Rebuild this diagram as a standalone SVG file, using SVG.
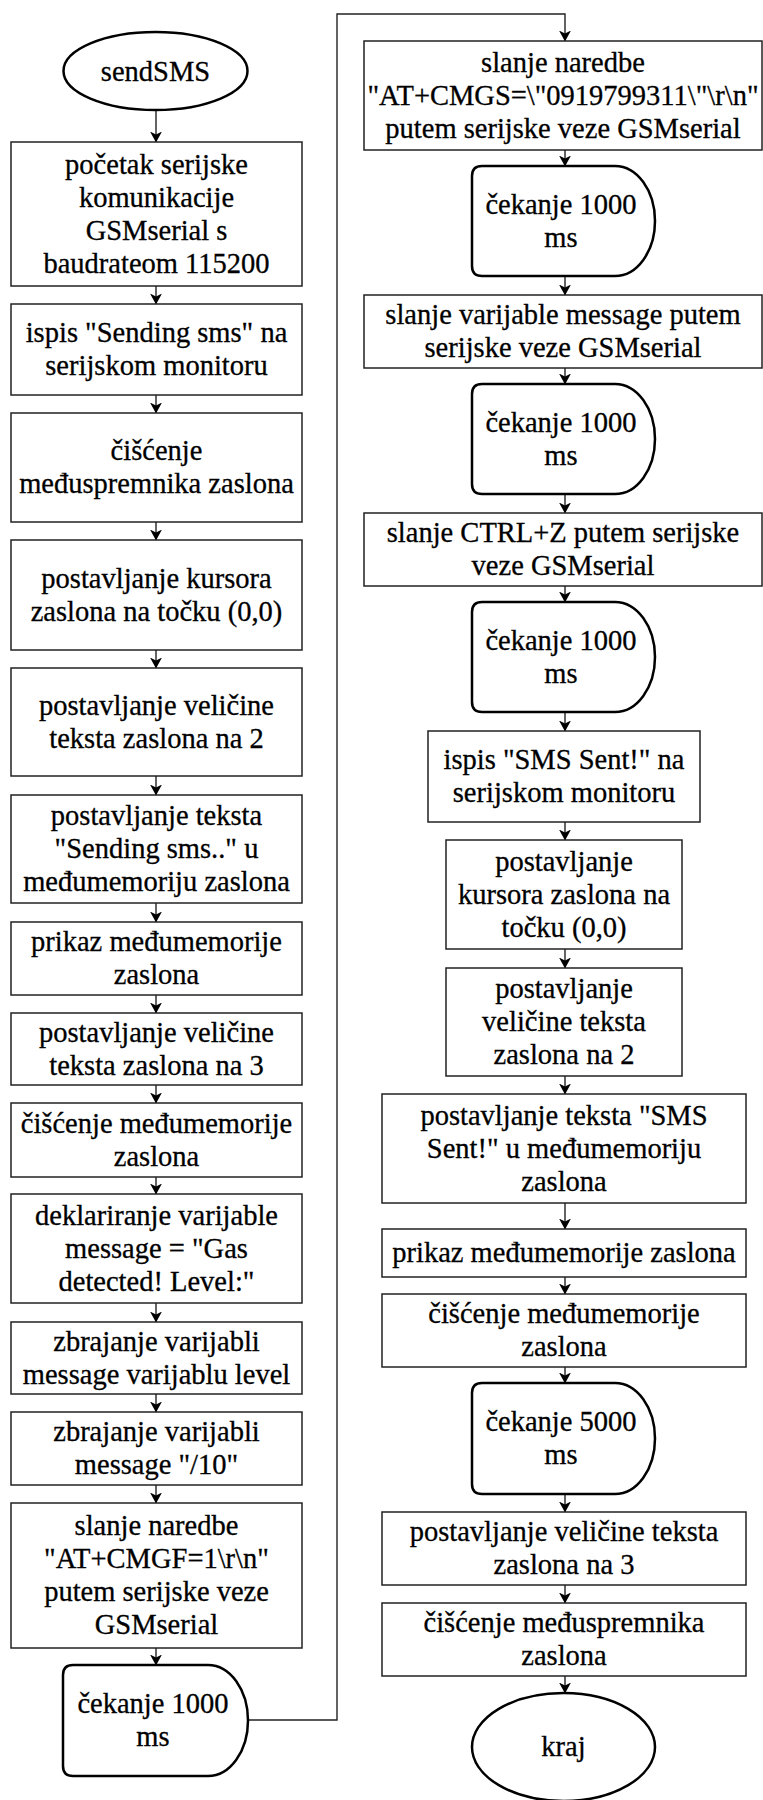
<svg xmlns="http://www.w3.org/2000/svg" width="763" height="1800" viewBox="0 0 763 1800">
<style>
.b{fill:#fff;stroke:#222;stroke-width:1.5}
.d{fill:#fff;stroke:#000;stroke-width:2.5}
.c{fill:none;stroke:#222;stroke-width:1.4;marker-end:url(#ah)}
text{font-family:"Liberation Serif","Times New Roman",serif;font-size:28.5px;text-anchor:middle;fill:#000;stroke:#000;stroke-width:0.3px}
</style>
<defs>
<marker id="ah" markerUnits="userSpaceOnUse" markerWidth="11" markerHeight="12" viewBox="0 0 11 12" refX="10.5" refY="6" orient="auto">
<path d="M0,0 L11,6 L0,12 L3,6 Z" fill="#000"/>
</marker>
</defs>
<rect width="763" height="1800" fill="#fff"/>
<g id="connectors">
<line class="c" x1="156" y1="110" x2="156" y2="142"/>
<line class="c" x1="156" y1="286" x2="156" y2="304"/>
<line class="c" x1="156" y1="395" x2="156" y2="413"/>
<line class="c" x1="156" y1="522" x2="156" y2="540"/>
<line class="c" x1="156" y1="650" x2="156" y2="668"/>
<line class="c" x1="156" y1="776" x2="156" y2="795"/>
<line class="c" x1="156" y1="903" x2="156" y2="922"/>
<line class="c" x1="156" y1="995" x2="156" y2="1013"/>
<line class="c" x1="156" y1="1085" x2="156" y2="1103"/>
<line class="c" x1="156" y1="1177" x2="156" y2="1194"/>
<line class="c" x1="156" y1="1303" x2="156" y2="1322"/>
<line class="c" x1="156" y1="1394" x2="156" y2="1412"/>
<line class="c" x1="156" y1="1485" x2="156" y2="1503"/>
<line class="c" x1="156" y1="1648" x2="156" y2="1665"/>
<polyline class="c" points="248,1720 337,1720 337,14 565,14 565,41"/>
<line class="c" x1="565" y1="150" x2="565" y2="166"/>
<line class="c" x1="565" y1="276" x2="565" y2="295"/>
<line class="c" x1="565" y1="368" x2="565" y2="384"/>
<line class="c" x1="565" y1="494" x2="565" y2="513"/>
<line class="c" x1="565" y1="586" x2="565" y2="602"/>
<line class="c" x1="565" y1="712" x2="565" y2="731"/>
<line class="c" x1="565" y1="822" x2="565" y2="840"/>
<line class="c" x1="565" y1="949" x2="565" y2="968"/>
<line class="c" x1="565" y1="1076" x2="565" y2="1094"/>
<line class="c" x1="565" y1="1203" x2="565" y2="1229"/>
<line class="c" x1="565" y1="1277" x2="565" y2="1294"/>
<line class="c" x1="565" y1="1367" x2="565" y2="1383"/>
<line class="c" x1="565" y1="1494" x2="565" y2="1512"/>
<line class="c" x1="565" y1="1585" x2="565" y2="1603"/>
<line class="c" x1="565" y1="1676" x2="565" y2="1693"/>
</g>
<g id="start"><ellipse class="d" cx="155.5" cy="71" rx="92" ry="39"/><text x="155.5" y="81">sendSMS</text></g>
<g id="b1"><rect class="b" x="11" y="142" width="291" height="144"/><text x="156.5" y="173.5">početak serijske</text><text x="156.5" y="206.5">komunikacije</text><text x="156.5" y="239.5">GSMserial s</text><text x="156.5" y="272.5">baudrateom 115200</text></g>
<g id="b2"><rect class="b" x="11" y="304" width="291" height="91"/><text x="156.5" y="342">ispis "Sending sms" na</text><text x="156.5" y="375">serijskom monitoru</text></g>
<g id="b3"><rect class="b" x="11" y="413" width="291" height="109"/><text x="156.5" y="460">čišćenje</text><text x="156.5" y="493">međuspremnika zaslona</text></g>
<g id="b4"><rect class="b" x="11" y="540" width="291" height="110"/><text x="156.5" y="587.5">postavljanje kursora</text><text x="156.5" y="620.5">zaslona na točku (0,0)</text></g>
<g id="b5"><rect class="b" x="11" y="668" width="291" height="108"/><text x="156.5" y="714.5">postavljanje veličine</text><text x="156.5" y="747.5">teksta zaslona na 2</text></g>
<g id="b6"><rect class="b" x="11" y="795" width="291" height="108"/><text x="156.5" y="825">postavljanje teksta</text><text x="156.5" y="858">"Sending sms.." u</text><text x="156.5" y="891">međumemoriju zaslona</text></g>
<g id="b7"><rect class="b" x="11" y="922" width="291" height="73"/><text x="156.5" y="951">prikaz međumemorije</text><text x="156.5" y="984">zaslona</text></g>
<g id="b8"><rect class="b" x="11" y="1013" width="291" height="72"/><text x="156.5" y="1041.5">postavljanje veličine</text><text x="156.5" y="1074.5">teksta zaslona na 3</text></g>
<g id="b9"><rect class="b" x="11" y="1103" width="291" height="74"/><text x="156.5" y="1132.5">čišćenje međumemorije</text><text x="156.5" y="1165.5">zaslona</text></g>
<g id="b10"><rect class="b" x="11" y="1194" width="291" height="109"/><text x="156.5" y="1224.5">deklariranje varijable</text><text x="156.5" y="1257.5">message = "Gas</text><text x="156.5" y="1290.5">detected! Level:"</text></g>
<g id="b11"><rect class="b" x="11" y="1322" width="291" height="72"/><text x="156.5" y="1350.5">zbrajanje varijabli</text><text x="156.5" y="1383.5">message varijablu level</text></g>
<g id="b12"><rect class="b" x="11" y="1412" width="291" height="73"/><text x="156.5" y="1441">zbrajanje varijabli</text><text x="156.5" y="1474">message "/10"</text></g>
<g id="b13"><rect class="b" x="11" y="1503" width="291" height="145"/><text x="156.5" y="1535">slanje naredbe</text><text x="156.5" y="1568">"AT+CMGF=1\r\n"</text><text x="156.5" y="1601">putem serijske veze</text><text x="156.5" y="1634">GSMserial</text></g>
<g id="d1"><path class="d" d="M73,1665 H208 A40,55.5 0 0 1 248,1720.5 A40,55.5 0 0 1 208,1776 H73 Q63,1776 63,1766 V1675 Q63,1665 73,1665 Z"/><text x="153" y="1713">čekanje 1000</text><text x="153" y="1746">ms</text></g>
<g id="r1"><rect class="b" x="364" y="41" width="398" height="109"/><text x="563" y="71.5">slanje naredbe</text><text x="563" y="104.5">"AT+CMGS=\"0919799311\"\r\n"</text><text x="563" y="137.5">putem serijske veze GSMserial</text></g>
<g id="r2"><path class="d" d="M482,166 H615 A40,55 0 0 1 655,221 A40,55 0 0 1 615,276 H482 Q472,276 472,266 V176 Q472,166 482,166 Z"/><text x="561" y="213.5">čekanje 1000</text><text x="561" y="246.5">ms</text></g>
<g id="r3"><rect class="b" x="364" y="295" width="398" height="73"/><text x="563" y="324">slanje varijable message putem</text><text x="563" y="357">serijske veze GSMserial</text></g>
<g id="r4"><path class="d" d="M482,384 H615 A40,55 0 0 1 655,439 A40,55 0 0 1 615,494 H482 Q472,494 472,484 V394 Q472,384 482,384 Z"/><text x="561" y="431.5">čekanje 1000</text><text x="561" y="464.5">ms</text></g>
<g id="r5"><rect class="b" x="364" y="513" width="398" height="73"/><text x="563" y="542">slanje CTRL+Z putem serijske</text><text x="563" y="575">veze GSMserial</text></g>
<g id="r6"><path class="d" d="M482,602 H615 A40,55 0 0 1 655,657 A40,55 0 0 1 615,712 H482 Q472,712 472,702 V612 Q472,602 482,602 Z"/><text x="561" y="649.5">čekanje 1000</text><text x="561" y="682.5">ms</text></g>
<g id="r7"><rect class="b" x="428" y="731" width="272" height="91"/><text x="564" y="769">ispis "SMS Sent!" na</text><text x="564" y="802">serijskom monitoru</text></g>
<g id="r8"><rect class="b" x="446" y="840" width="236" height="109"/><text x="564" y="870.5">postavljanje</text><text x="564" y="903.5">kursora zaslona na</text><text x="564" y="936.5">točku (0,0)</text></g>
<g id="r9"><rect class="b" x="446" y="968" width="236" height="108"/><text x="564" y="998">postavljanje</text><text x="564" y="1031">veličine teksta</text><text x="564" y="1064">zaslona na 2</text></g>
<g id="r10"><rect class="b" x="382" y="1094" width="364" height="109"/><text x="564" y="1124.5">postavljanje teksta "SMS</text><text x="564" y="1157.5">Sent!" u međumemoriju</text><text x="564" y="1190.5">zaslona</text></g>
<g id="r11"><rect class="b" x="382" y="1229" width="364" height="48"/><text x="564" y="1262">prikaz međumemorije zaslona</text></g>
<g id="r12"><rect class="b" x="382" y="1294" width="364" height="73"/><text x="564" y="1323">čišćenje međumemorije</text><text x="564" y="1356">zaslona</text></g>
<g id="r13"><path class="d" d="M482,1383 H615 A40,55.5 0 0 1 655,1438.5 A40,55.5 0 0 1 615,1494 H482 Q472,1494 472,1484 V1393 Q472,1383 482,1383 Z"/><text x="561" y="1431">čekanje 5000</text><text x="561" y="1464">ms</text></g>
<g id="r14"><rect class="b" x="382" y="1512" width="364" height="73"/><text x="564" y="1541">postavljanje veličine teksta</text><text x="564" y="1574">zaslona na 3</text></g>
<g id="r15"><rect class="b" x="382" y="1603" width="364" height="73"/><text x="564" y="1632">čišćenje međuspremnika</text><text x="564" y="1665">zaslona</text></g>
<g id="end"><ellipse class="d" cx="563.5" cy="1747" rx="91.5" ry="54"/><text x="563.5" y="1756">kraj</text></g>
</svg>
